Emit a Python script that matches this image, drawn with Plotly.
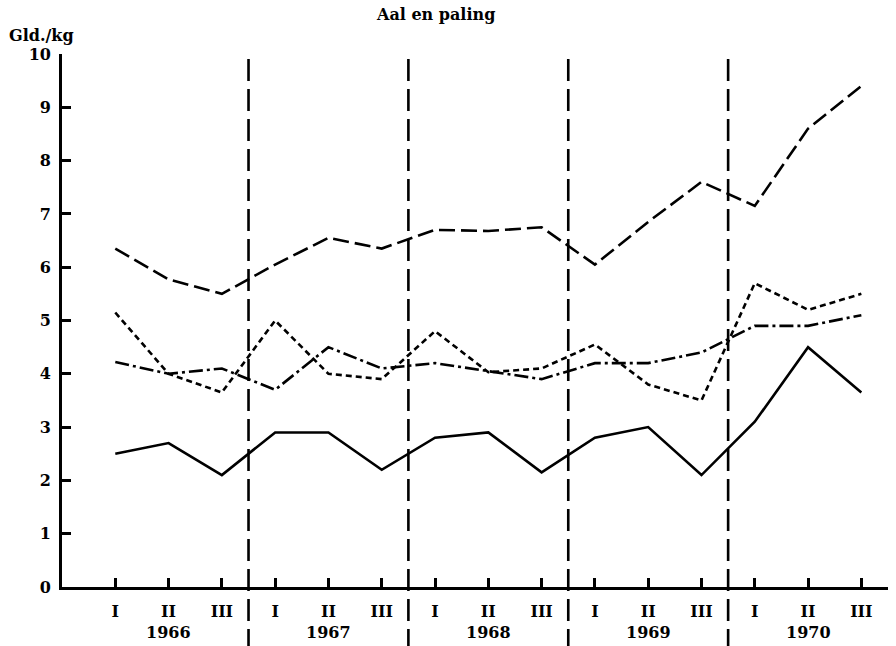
import plotly.graph_objects as go

years = ["1966", "1967", "1968", "1969", "1970"]
quarters = ["I", "II", "III"]
tick_labels = [q for y in years for q in quarters]

solid = [2.5, 2.7, 2.1, 2.9, 2.9, 2.2, 2.8, 2.9, 2.15, 2.8, 3.0, 2.1, 3.1, 4.5, 3.65]
long_dash = [6.35, 5.77, 5.5, 6.05, 6.55, 6.35, 6.7, 6.68, 6.75, 6.05, 6.85, 7.6, 7.15, 8.6, 9.4]
short_dash = [5.15, 4.0, 3.65, 5.0, 4.0, 3.9, 4.8, 4.03, 4.1, 4.55, 3.8, 3.5, 5.7, 5.2, 5.5]
dash_dot = [4.22, 4.0, 4.1, 3.7, 4.5, 4.1, 4.2, 4.05, 3.9, 4.2, 4.2, 4.4, 4.9, 4.9, 5.1]

title = "Aal en paling"
y_title = "Gld./kg"

x = list(range(len(tick_labels)))
FONT = "DejaVu Serif"
TF = dict(family=FONT, size=16, color="black", weight="bold")

fig = go.Figure()
series = [
    (solid, "solid"),
    (long_dash, "16px,6px"),
    (short_dash, "6px,4px"),
    (dash_dot, "14px,4px,3px,4px"),
]
for vals, dash in series:
    fig.add_trace(go.Scatter(x=x, y=vals, mode="lines",
                             line=dict(color="black", width=2.6, dash=dash),
                             showlegend=False, hoverinfo="skip"))

# year separators
for i in range(1, len(years)):
    xs = i * 3 - 0.5
    fig.add_shape(type="line", xref="x", yref="paper", x0=xs, x1=xs, y0=-0.12, y1=1.0,
                  line=dict(color="black", width=2.6, dash="22px,8px"))

# year labels
for i, yr in enumerate(years):
    fig.add_annotation(x=i * 3 + 1, y=0, xref="x", yref="paper", text=yr, showarrow=False,
                       yanchor="middle", yshift=-45, font=TF)

fig.add_annotation(x=0.452, y=1.0, xref="paper", yref="paper", text=title, showarrow=False,
                   yanchor="middle", yshift=40, font=TF)
fig.add_annotation(x=0, y=1.0, xref="paper", yref="paper", text=y_title, showarrow=False,
                   xanchor="left", xshift=-55, yanchor="middle", yshift=19, font=TF)

fig.update_layout(
    width=896, height=646,
    margin=dict(l=62, r=8, t=54, b=59),
    plot_bgcolor="white", paper_bgcolor="white",
    font=TF,
)
fig.update_xaxes(range=[-1, 14.5], tickmode="array", tickvals=x, ticktext=tick_labels,
                 showgrid=False, zeroline=False, showline=True, linecolor="black", linewidth=2.6,
                 ticks="inside", ticklen=9, tickwidth=2.6, tickcolor="black",
                 ticklabelstandoff=8, tickfont=TF)
fig.update_yaxes(range=[0, 10], tickmode="array", tickvals=list(range(11)),
                 showgrid=False, zeroline=False, showline=True, linecolor="black", linewidth=2.6,
                 ticks="inside", ticklen=9, tickwidth=2.6, tickcolor="black",
                 ticklabelstandoff=5, tickfont=TF)

fig.write_html("out.html", config={"displayModeBar": False},
               post_script="document.body.style.margin='0px';document.body.style.overflow='hidden';")
